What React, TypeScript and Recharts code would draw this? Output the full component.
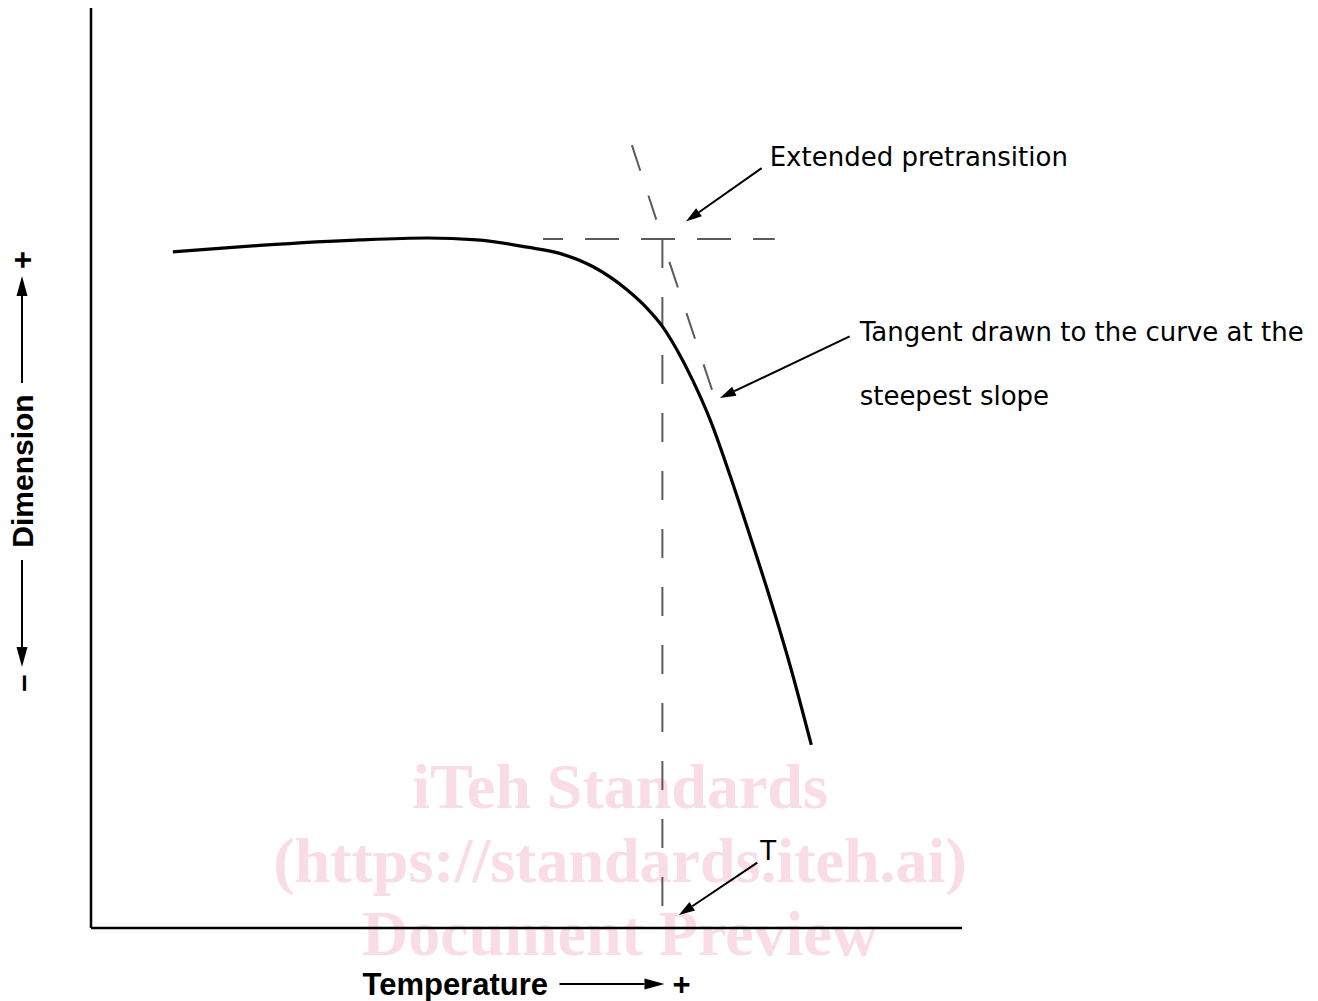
import { ComposedChart, Line, XAxis, YAxis, ReferenceLine } from "recharts"

// curve (temperature -> dimension, arbitrary units 0..100)
const temperature = [9.4, 19.4, 30.9, 38.6, 44.3, 50.1, 53.9, 57.6, 61.5, 63.8, 65.6, 67.3, 69.1, 71.1, 73.4, 75.7, 78.0, 80.3, 82.7]
const dimension = [73.5, 74.2, 74.8, 75.0, 74.8, 74.0, 73.3, 71.9, 69.4, 67.4, 65.4, 62.8, 59.5, 55.2, 49.1, 42.5, 35.7, 28.4, 19.9]

// construction lines
const pretransitionLevel = 74.9
const pretransitionSpan = [51.9, 78.5]
const transitionT = 65.6
const transitionSpan = [2.4, 74.9]
const tangentUpper = [{ x: 62.1, y: 85.1 }, { x: 64.9, y: 77.0 }]
const tangentLower = [{ x: 66.4, y: 72.4 }, { x: 71.3, y: 58.5 }]

// annotation arrows: tail -> head
const noteTails = [{ x: 77.0, y: 82.6 }, { x: 87.1, y: 64.3 }, { x: 76.5, y: 7.1 }]
const noteHeads = [{ x: 68.3, y: 76.8 }, { x: 72.2, y: 57.6 }, { x: 67.5, y: 1.4 }]
const noteTexts = [["Extended pretransition"], ["Tangent drawn to the curve at the", "steepest slope"], ["T"]]

const xAxisTitle = "Temperature"
const yAxisTitle = "Dimension"
const watermark = ["iTeh Standards", "(https://standards.iteh.ai)", "Document Preview"]

const chartData = temperature.map((t, i) => ({ x: t, y: dimension[i] }))

const noteFont = "'DejaVu Sans', Verdana, sans-serif"
const titleFont = "'Liberation Sans', Arial, sans-serif"
const noteStyle = [
  { dx: 8, dy: -11, anchor: "start" },
  { dx: 10, dy: -4, anchor: "start" },
  { dx: 11, dy: -12, anchor: "middle" },
]

const arrowHead = (x1: number, y1: number, x2: number, y2: number, hl = 16, hw = 5) => {
  const len = Math.hypot(x2 - x1, y2 - y1) || 1
  const ux = (x2 - x1) / len
  const uy = (y2 - y1) / len
  const bx = x2 - ux * hl
  const by = y2 - uy * hl
  return {
    bx,
    by,
    points: `${x2},${y2} ${bx - uy * hw},${by + ux * hw} ${bx + uy * hw},${by - ux * hw}`,
  }
}

const noteShape = (i: number) => (p: any) => {
  const { x1, y1, x2, y2 } = p
  const head = arrowHead(x1, y1, x2, y2)
  const st = noteStyle[i]
  return (
    <g>
      <line x1={x1} y1={y1} x2={head.bx} y2={head.by} stroke="#000" strokeWidth={2} />
      <polygon points={head.points} fill="#000" />
      {noteTexts[i].map((t, j) => (
        <text
          key={j}
          x={x1 + st.dx}
          y={y1 + st.dy + j * 64}
          textAnchor={st.anchor as any}
          dominantBaseline="central"
          fontFamily={noteFont}
          fontSize={26}
          fill="#000"
        >
          {t}
        </text>
      ))}
    </g>
  )
}

const XTitle = (props: any) => {
  const vb = props.viewBox ?? { x: 91, y: 928, width: 871, height: 10 }
  const cx = vb.x + vb.width / 2
  const y = vb.y + 56
  const head = arrowHead(cx + 33, y, cx + 138, y, 20, 5.5)
  return (
    <g>
      <text x={cx - 164} y={y} dominantBaseline="central" fontFamily={titleFont} fontWeight="bold" fontSize={31} fill="#000">
        {xAxisTitle}
      </text>
      <line x1={cx + 33} y1={y} x2={head.bx} y2={y} stroke="#000" strokeWidth={2} />
      <polygon points={head.points} fill="#000" />
      <text x={cx + 155} y={y} textAnchor="middle" dominantBaseline="central" fontFamily={titleFont} fontWeight="bold" fontSize={31} fill="#000">
        +
      </text>
    </g>
  )
}

const YTitle = (props: any) => {
  const vb = props.viewBox ?? { x: 81, y: 8, width: 10, height: 920 }
  const cx = vb.x + vb.width - 69
  const cy = vb.y + vb.height / 2 + 3
  const up = arrowHead(cx + 88, cy, cx + 195, cy, 20, 5.5)
  const down = arrowHead(cx - 89, cy, cx - 196, cy, 20, 5.5)
  return (
    <g transform={`rotate(-90, ${cx}, ${cy})`}>
      <text x={cx - 212} y={cy} textAnchor="middle" dominantBaseline="central" fontFamily={titleFont} fontWeight="bold" fontSize={31} fill="#000">
        –
      </text>
      <line x1={cx - 89} y1={cy} x2={down.bx} y2={cy} stroke="#000" strokeWidth={2} />
      <polygon points={down.points} fill="#000" />
      <text x={cx} y={cy} textAnchor="middle" dominantBaseline="central" fontFamily={titleFont} fontWeight="bold" fontSize={30} fill="#000">
        {yAxisTitle}
      </text>
      <line x1={cx + 88} y1={cy} x2={up.bx} y2={cy} stroke="#000" strokeWidth={2} />
      <polygon points={up.points} fill="#000" />
      <text x={cx + 211} y={cy} textAnchor="middle" dominantBaseline="central" fontFamily={titleFont} fontWeight="bold" fontSize={31} fill="#000">
        +
      </text>
    </g>
  )
}

const dashed = { stroke: "#5a5a5a", strokeWidth: 2 }

export default function App() {
  return (
    <div style={{ position: "absolute", left: 0, top: 0, width: 1318, height: 1001, background: "#fff" }}>
      {/* watermark sits behind the drawing */}
      <svg width={1318} height={1001} style={{ position: "absolute", left: 0, top: 0 }}>
        {watermark.map((t, i) => (
          <text
            key={t}
            x={620}
            y={[808, 882, 955][i]}
            textAnchor="middle"
            fontFamily="'Liberation Serif', 'Times New Roman', serif"
            fontWeight="bold"
            fontSize={64}
            fill="#f9dce5"
          >
            {t}
          </text>
        ))}
      </svg>
      <div style={{ position: "absolute", left: 0, top: 0 }}>
        <ComposedChart width={1318} height={1001} data={chartData} margin={{ top: 8, right: 356, left: 81, bottom: 63 }}>
          <XAxis
            type="number"
            dataKey="x"
            domain={[0, 100]}
            tick={false}
            tickLine={false}
            height={10}
            axisLine={{ stroke: "#000", strokeWidth: 2.5 }}
            label={XTitle}
          />
          <YAxis
            type="number"
            domain={[0, 100]}
            tick={false}
            tickLine={false}
            width={10}
            axisLine={{ stroke: "#000", strokeWidth: 2.5 }}
            label={YTitle}
          />
          <ReferenceLine
            segment={[{ x: pretransitionSpan[0], y: pretransitionLevel }, { x: pretransitionSpan[1], y: pretransitionLevel }]}
            {...dashed}
            strokeDasharray="34 22"
            strokeDashoffset={14}
            ifOverflow="visible"
          />
          <ReferenceLine
            segment={[{ x: transitionT, y: transitionSpan[1] }, { x: transitionT, y: transitionSpan[0] }]}
            {...dashed}
            strokeDasharray="29 29"
            ifOverflow="visible"
          />
          <ReferenceLine segment={tangentUpper} {...dashed} strokeDasharray="27 26" ifOverflow="visible" />
          <ReferenceLine segment={tangentLower} {...dashed} strokeDasharray="27 27" ifOverflow="visible" />
          <Line
            type="monotone"
            dataKey="y"
            stroke="#000"
            strokeWidth={3.2}
            dot={false}
            activeDot={false}
            isAnimationActive={false}
          />
          {noteTails.map((tail, i) => (
            <ReferenceLine key={i} segment={[tail, noteHeads[i]]} shape={noteShape(i)} ifOverflow="visible" />
          ))}
        </ComposedChart>
      </div>
    </div>
  )
}
